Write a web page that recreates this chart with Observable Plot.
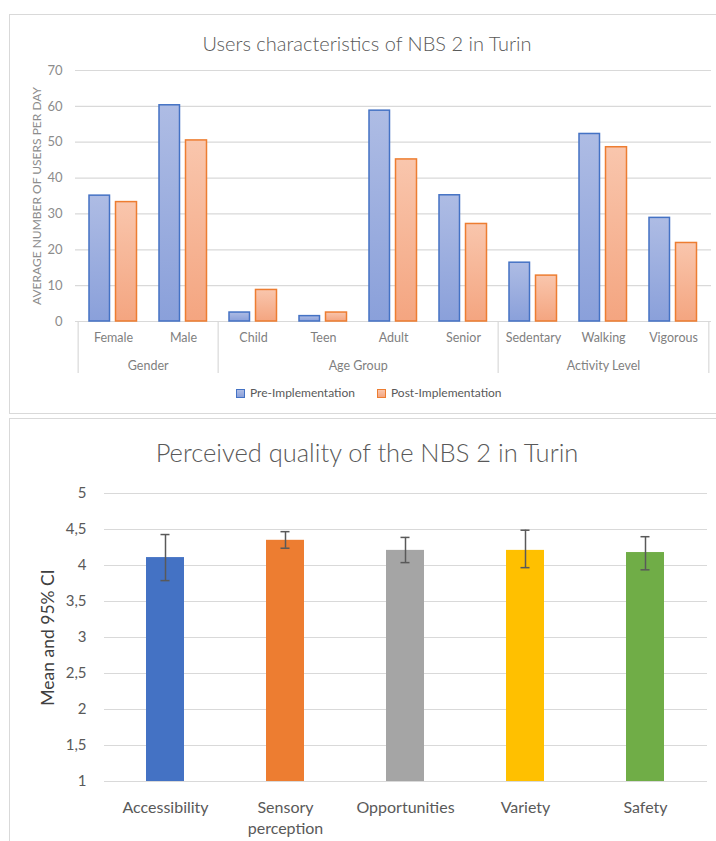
<!DOCTYPE html>
<html><head><meta charset="utf-8">
<script src="https://cdn.jsdelivr.net/npm/d3@7"></script>
<script src="https://cdn.jsdelivr.net/npm/@observablehq/plot@0.6"></script>
<style>
body{margin:0;background:#fff;font-family:Lato,"Open Sans",sans-serif;}
#page{position:relative;width:716px;height:841px;overflow:hidden;background:#fff;}
.panel{position:absolute;border:1px solid #d9d9d9;box-sizing:border-box;}
.title{position:absolute;left:0;width:734px;text-align:center;color:#595959;line-height:1;white-space:pre;font-weight:300;}
.chart{position:absolute;left:0;}
#legend{position:absolute;top:386px;left:236px;display:flex;align-items:center;font-size:12px;color:#595959;line-height:14px;}
#legend .sw{display:inline-block;width:7px;height:7px;margin-right:5px;box-sizing:content-box;}
#legend .item{display:flex;align-items:center;margin-right:22px;}
</style></head>
<body><div id="page">
<div class="panel" style="left:9px;top:14px;width:730px;height:400px;"></div>
<div class="panel" style="left:9px;top:418px;width:730px;height:440px;"></div>
<div class="title" id="t1" style="top:33px;font-size:20px;"></div>
<div class="chart" id="c1" style="top:55px;"></div>
<div id="legend"></div>
<div class="title" id="t2" style="top:440px;font-size:25.5px;"></div>
<div class="chart" id="c2" style="top:478px;"></div>
</div>
<script>
// ---------- Chart 1 data ----------
const title1 = "Users characteristics of NBS 2 in Turin";
const categories = ["Female","Male","Child","Teen","Adult","Senior","Sedentary","Walking","Vigorous"];
const categoryGroups = ["Gender","Gender","Age Group","Age Group","Age Group","Age Group","Activity Level","Activity Level","Activity Level"];
const groupNames = ["Gender","Age Group","Activity Level"];
const seriesNames = ["Pre-Implementation","Post-Implementation"];
const preValues = [35.1, 60.3, 2.5, 1.5, 58.8, 35.2, 16.4, 52.3, 28.9];
const postValues = [33.3, 50.5, 8.8, 2.5, 45.2, 27.2, 12.8, 48.6, 21.9];
const usersTicks = [0, 10, 20, 30, 40, 50, 60, 70];
const usersLabel = "AVERAGE NUMBER OF USERS PER DAY";

// ---------- Chart 2 data ----------
const title2 = "Perceived quality of the NBS 2 in Turin";
const qualityCategories = ["Accessibility","Sensory perception","Opportunities","Variety","Safety"];
const qualityTickLabels = ["Accessibility","Sensory\nperception","Opportunities","Variety","Safety"];
const qualityMean = [4.11, 4.35, 4.21, 4.21, 4.18];
const qualityLow = [3.79, 4.24, 4.04, 3.97, 3.94];
const qualityHigh = [4.43, 4.47, 4.39, 4.49, 4.40];
const qualityColors = ["#4472c4","#ed7d31","#a5a5a5","#ffc000","#70ad47"];
const qualityTicks = [1, 1.5, 2, 2.5, 3, 3.5, 4, 4.5, 5];
const qualityLabel = "Mean and 95% CI";

const preColors = {stroke: "#4472c4", top: "#aebce4", bottom: "#8aa0da"};
const postColors = {stroke: "#ed7d31", top: "#f9c6ad", bottom: "#f4a580"};

document.getElementById("t1").textContent = title1;
document.getElementById("t2").textContent = title2;

// ---------- Chart 1 ----------
const usersData = categories.map((c, i) => ({category: c, group: categoryGroups[i], pre: preValues[i], post: postValues[i]}));
const W1 = 716, ML1 = 75, MR1 = 5, MT1 = 15, MB1 = 59, H1 = 325;
const bw = (W1 - ML1 - MR1) / categories.length;

const groupInfo = groupNames.map(g => {
  const idx = categories.map((c, i) => i).filter(i => categoryGroups[i] === g);
  return {name: g, first: idx[0], last: idx[idx.length - 1], n: idx.length};
});
const leftEdges = groupInfo.map(g => categories[g.first]);
const rightEdge = [categories[groupInfo[groupInfo.length - 1].last]];
const evenGroups = groupInfo.filter(g => g.n % 2 === 0).map(g => ({name: g.name, at: categories[g.first + g.n / 2]}));
const oddGroups = groupInfo.filter(g => g.n % 2 === 1).map(g => ({name: g.name, at: categories[g.first + (g.n - 1) / 2]}));

function gradientDefs() {
  const defs = d3.create("svg:defs");
  [["gPre", preColors], ["gPost", postColors]].forEach(([id, c]) => {
    const lg = defs.append("linearGradient").attr("id", id).attr("x1", 0).attr("y1", 0).attr("x2", 0).attr("y2", 1);
    lg.append("stop").attr("offset", "0%").attr("stop-color", c.top);
    lg.append("stop").attr("offset", "100%").attr("stop-color", c.bottom);
  });
  return defs.node();
}

const chart1 = Plot.plot({
  width: W1, height: H1,
  marginLeft: ML1, marginRight: MR1, marginTop: MT1, marginBottom: MB1,
  style: {fontFamily: "Lato, 'Open Sans', sans-serif", background: "transparent", overflow: "visible"},
  x: {domain: categories, padding: 0},
  y: {domain: [0, 70]},
  marks: [
    gradientDefs,
    Plot.gridY(usersTicks, {stroke: "#d9d9d9", strokeOpacity: 1, strokeWidth: 1.2}),
    Plot.ruleY([0], {stroke: "#d9d9d9", strokeWidth: 1.2}),
    Plot.barY(usersData, {x: "category", y: "pre", fill: "url(#gPre)", stroke: preColors.stroke, strokeWidth: 1.5, insetLeft: 11, insetRight: 38.5}),
    Plot.barY(usersData, {x: "category", y: "post", fill: "url(#gPost)", stroke: postColors.stroke, strokeWidth: 1.5, insetLeft: 37.5, insetRight: 11.5}),
    Plot.axisY(usersTicks, {tickSize: 0, tickPadding: 13, fontSize: 13, color: "#8c8c8c", label: null}),
    Plot.axisX({tickSize: 0, tickPadding: 12, fontSize: 12.5, color: "#7f7f7f", label: null}),
    Plot.ruleX(leftEdges, {x: d => d, dx: -bw / 2, stroke: "#d9d9d9", strokeWidth: 1.2, insetTop: 251, insetBottom: -52}),
    Plot.ruleX(rightEdge, {x: d => d, dx: bw / 2, stroke: "#d9d9d9", strokeWidth: 1.2, insetTop: 251, insetBottom: -52}),
    Plot.text(evenGroups, {x: "at", text: "name", frameAnchor: "bottom", dx: -bw / 2, dy: 44, lineAnchor: "middle", fontSize: 12.5, fill: "#7f7f7f"}),
    Plot.text(oddGroups, {x: "at", text: "name", frameAnchor: "bottom", dy: 44, lineAnchor: "middle", fontSize: 12.5, fill: "#7f7f7f"}),
    Plot.text([usersLabel], {text: d => d, frameAnchor: "left", textAnchor: "middle", lineAnchor: "middle", dx: -38, rotate: -90, fontSize: 12, fill: "#8c8c8c"})
  ]
});
document.getElementById("c1").appendChild(chart1);

// legend
const legend = document.getElementById("legend");
[[seriesNames[0], preColors], [seriesNames[1], postColors]].forEach(([name, c]) => {
  const item = document.createElement("span");
  item.className = "item";
  const sw = document.createElement("span");
  sw.className = "sw";
  sw.style.background = `linear-gradient(${c.top}, ${c.bottom})`;
  sw.style.border = `1px solid ${c.stroke}`;
  item.appendChild(sw);
  item.appendChild(document.createTextNode(name));
  legend.appendChild(item);
});

// ---------- Chart 2 ----------
const qualityData = qualityCategories.map((c, i) => ({name: c, mean: qualityMean[i], low: qualityLow[i], high: qualityHigh[i], color: qualityColors[i]}));
const chart2 = Plot.plot({
  width: 716, height: 363,
  marginLeft: 104, marginRight: 9, marginTop: 15, marginBottom: 60,
  style: {fontFamily: "Lato, 'Open Sans', sans-serif", background: "transparent", overflow: "visible"},
  x: {domain: qualityCategories, paddingInner: 0.68, paddingOuter: 0.34},
  y: {domain: [1, 5]},
  color: {type: "identity"},
  marks: [
    Plot.gridY(qualityTicks, {stroke: "#d9d9d9", strokeOpacity: 1, strokeWidth: 1.2}),
    Plot.barY(qualityData, {x: "name", y1: 1, y2: "mean", fill: "color"}),
    Plot.ruleX(qualityData, {x: "name", y1: "low", y2: "high", stroke: "#595959", strokeWidth: 1.5}),
    Plot.tickY(qualityData, {x: "name", y: "low", stroke: "#595959", strokeWidth: 1.5, insetLeft: 14.5, insetRight: 14.5}),
    Plot.tickY(qualityData, {x: "name", y: "high", stroke: "#595959", strokeWidth: 1.5, insetLeft: 14.5, insetRight: 14.5}),
    Plot.axisY(qualityTicks, {tickSize: 0, tickPadding: 18, fontSize: 15, color: "#595959", label: null, tickFormat: d => String(d).replace(".", ",")}),
    Plot.axisX({tickSize: 0, tickPadding: 16, fontSize: 16, color: "#595959", label: null, lineHeight: 1.35, tickFormat: d => qualityTickLabels[qualityCategories.indexOf(d)]}),
    Plot.text([qualityLabel], {text: d => d, frameAnchor: "left", textAnchor: "middle", lineAnchor: "middle", dx: -56, rotate: -90, fontSize: 17.5, fill: "#404040"})
  ]
});
document.getElementById("c2").appendChild(chart2);
</script>
</body></html>
